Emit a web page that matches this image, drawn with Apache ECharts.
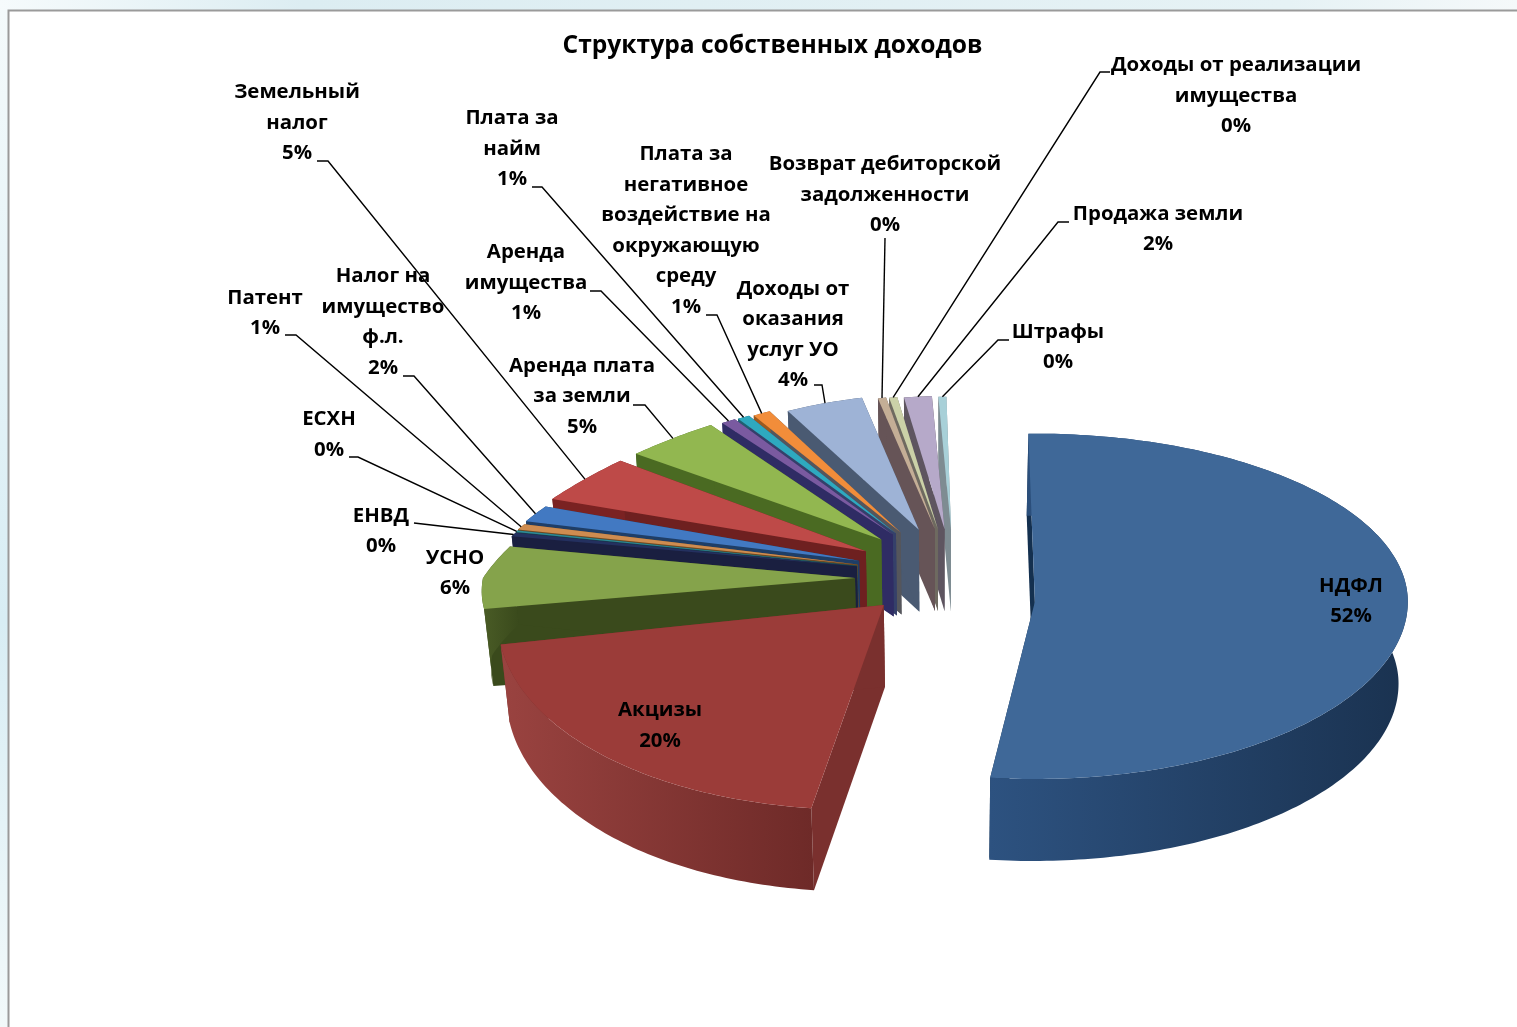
<!DOCTYPE html>
<html><head><meta charset="utf-8">
<style>html,body{margin:0;padding:0;background:#fff}#c{width:1517px;height:1027px}</style>
<script src="https://cdn.jsdelivr.net/npm/echarts@6/dist/echarts.min.js"></script>
</head><body><div id="c"></div>
<script>
// ---- data ----
const titleText = 'Структура собственных доходов';
const categories = ['НДФЛ','Акцизы','УСНО','ЕНВД','ЕСХН','Патент','Налог на имущество ф.л.','Земельный налог','Аренда плата за земли','Аренда имущества','Плата за найм','Плата за негативное воздействие на окружающую среду','Доходы от оказания услуг УО','Возврат дебиторской задолженности','Доходы от реализации имущества','Продажа земли','Штрафы'];
const values = [52.2,20.0,6.1,0.35,0.15,0.55,1.55,4.6,4.55,0.75,0.65,0.95,4.45,0.49,0.49,1.7,0.49];
const labelLines = [['НДФЛ'],['Акцизы'],['УСНО'],['ЕНВД'],['ЕСХН'],['Патент'],['Налог на','имущество','ф.л.'],['Земельный','налог'],['Аренда плата','за земли'],['Аренда','имущества'],['Плата за','найм'],['Плата за','негативное','воздействие на','окружающую','среду'],['Доходы от','оказания','услуг УО'],['Возврат дебиторской','задолженности'],['Доходы от реализации','имущества'],['Продажа земли'],['Штрафы']];
const topColors = ['#3F6898','#9B3C39','#85A34B','#24305F','#2E8A96','#CE8C50','#4279C2','#BE4A48','#92B750','#7A5AA0','#2EA9BF','#F28D3A','#9EB3D6','#C4AE96','#CBD1A8','#B6A9C9','#A8D0D8'];
const cutColors = ['#14304F','#7A302E','#3A4A1C','#1A1F40','#18454F','#6E4A22','#1F3E66','#6E2020','#4A6A22','#2F2C64','#35406A','#55565C','#4A5A72','#665457','#6E6A60','#5E5560','#7E8C92'];
const rimDark = ['#1A3250','#6E2A28','#3A4A1C','#1A1F40','#18454F','#6E4A22','#1F3E66','#7A2222','#4A6A22','#2F2C64','#206070','#9A5A20','#4A5A72','#665457','#6E6A60','#5E5560','#7E8C92'];
const rimLight = ['#2D5280','#9A4340','#4A5C26','#1A1F40','#18454F','#6E4A22','#1F3E66','#7A2222','#4A6A22','#2F2C64','#206070','#9A5A20','#4A5A72','#665457','#6E6A60','#5E5560','#7E8C92'];

// ---- layout (label block centres, line pitch, leader elbows) ----
const labelCentres = [[1351,600],[660,724.5],[455,572],[381,530],[329,433.5],[265,312],[383,321],[297,122],[582,395.5],[526,282],[512,148],[686,229.5],[793,333.5],[885,194],[1236,95],[1158,228],[1058,346]];
const leaderElbows = [null,null,null,[[414,523]],[[349,457],[358,457]],[[285,335],[296,335]],[[403,376],[414,376]],[[317,161],[328,161]],[[633,405],[645,405]],[[590,291],[601,291]],[[532,187],[542,187]],[[706,315],[717,315]],[[814,385],[822,385]],[[885,238]],[[1110,72],[1100,72]],[[1069,222],[1058,222]],[[1009,340],[998,340]]];
const LINE_H = 30.5, LABEL_DY = 1, FONT = '"Open Sans"', FS = 20.4;
const cx = 945, cy = 589, explodeX = 90, depth = 82, bottomShrink = 0.98, startDeg = -1;

const total = values.reduce((a,b)=>a+b,0);
const rad = d => d*Math.PI/180;
function sliceGeom(i){
  let acc = 0; for(let k=0;k<i;k++) acc += values[k];
  const a0 = startDeg + acc/total*360, a1 = a0 + values[i]/total*360, mid = (a0+a1)/2;
  const u = -Math.cos(rad(mid)), s = Math.sin(rad(mid));
  const backShift = 9*Math.max(0,(-u-0.85)/0.15);
  const apex = [cx + explodeX*s + backShift, cy + 11*s + (u<0 ? 59*u : 32*u)];
  const left = s < 0;
  const ryB = 168 + 35*Math.min(u,0);
  const ryF = left ? 160 + 61*Math.max(u,0) : 175 + 46*Math.max(u,0);
  const pt = deg => {
    const c = -Math.cos(rad(deg));
    const rx = left && c < 0 ? 372 + 110*c : 372 + 18*Math.max(u,0);
    const dy = c*(c<0 ? ryB : ryF);
    const shear = left && dy > 0 ? 0.19*s*dy : 0;
    return [apex[0] + rx*Math.sin(rad(deg)) + shear, apex[1] + dy];
  };
  return {a0,a1,mid,apex,pt};
}
const low = p => {
  const far = Math.max(0,(cx-p[0])/460);
  return [cx + (p[0]-cx)*bottomShrink, p[1] + depth - 5*far*far*far*far];
};

function renderSlice(params, api){
  const i = api.value(0), g = sliceGeom(i), z = i===0 ? 1 : 100-i*2;
  const arc = [];
  const n = Math.max(2, Math.ceil(g.a1-g.a0));
  for(let k=0;k<=n;k++) arc.push(g.pt(g.a0+(g.a1-g.a0)*k/n));
  const children = [];
  [arc[0], arc[n]].forEach(e => children.push({type:'polygon',z2:z,
    shape:{points:[g.apex,e,low(e),low(g.apex)]},style:{fill:cutColors[i]},silent:true}));
  const wall = arc.concat(arc.slice().reverse().map(low));
  const xs = wall.map(p=>p[0]), minX=Math.min(...xs), maxX=Math.max(...xs);
  children.push({type:'polygon',z2:z+0.5,shape:{points:wall},silent:true,style:{
    fill:new echarts.graphic.LinearGradient(minX,0,maxX,0,[{offset:0,color:rimLight[i]},{offset:1,color:rimDark[i]}],true)}});
  children.push({type:'polygon',z2:z+1,shape:{points:[g.apex].concat(arc)},silent:true,style:{fill:topColors[i]}});
  return {type:'group',children};
}
function renderLabel(params, api){
  const i = api.value(0), g = sliceGeom(i), c = labelCentres[i];
  const lines = labelLines[i].concat([Math.round(values[i]/total*100)+'%']);
  const children = [];
  if(leaderElbows[i]){
    const rim = g.pt(g.mid);
    children.push({type:'polyline',z2:200,silent:true,shape:{points:leaderElbows[i].concat([rim])},style:{fill:null,stroke:'#000',lineWidth:1.4}});
  }
  lines.forEach((t,k)=>children.push({type:'text',z2:210,silent:true,style:{
    text:t,x:c[0],y:c[1]+LABEL_DY+(k-(lines.length-1)/2)*LINE_H,textAlign:'center',textVerticalAlign:'middle',
    fontFamily:FONT,fontSize:FS,fontWeight:700,fill:'#000'}}));
  return {type:'group',children};
}
const idx = categories.map((n,i)=>({name:n,value:[i,values[i]]}));
const chart = echarts.init(document.getElementById('c'));
chart.setOption({
  animation:false,
  backgroundColor:'#fff',
  title:{text:titleText,left:767.5,top:41,textAlign:'center',textVerticalAlign:'middle',textStyle:{fontFamily:FONT,fontSize:24.6,fontWeight:700,color:'#000'}},
  graphic:[
    {type:'rect',z:-10,silent:true,shape:{x:0,y:0,width:1517,height:10},style:{fill:new echarts.graphic.LinearGradient(0,0,1,0,[{offset:0,color:'#f6fbfc'},{offset:.2,color:'#dcedf2'},{offset:.85,color:'#e6f2f5'},{offset:1,color:'#f5f9fa'}])}},
    {type:'rect',z:-10,silent:true,shape:{x:0,y:10,width:8,height:1017},style:{fill:new echarts.graphic.LinearGradient(0,0,0,1,[{offset:0,color:'#f4fafb'},{offset:.6,color:'#d8edf4'},{offset:1,color:'#f2f9fa'}])}},
    {type:'polyline',z:-9,silent:true,shape:{points:[[8.5,1027],[8.5,10.5],[1517,10.5]]},style:{fill:null,stroke:'#9a9a9a',lineWidth:2}}
  ],
  series:[
    {type:'custom',coordinateSystem:'none',data:idx,renderItem:renderSlice,silent:true,z:2},
    {type:'custom',coordinateSystem:'none',data:idx,renderItem:renderLabel,silent:true,z:3}
  ]
});
</script></body></html>
